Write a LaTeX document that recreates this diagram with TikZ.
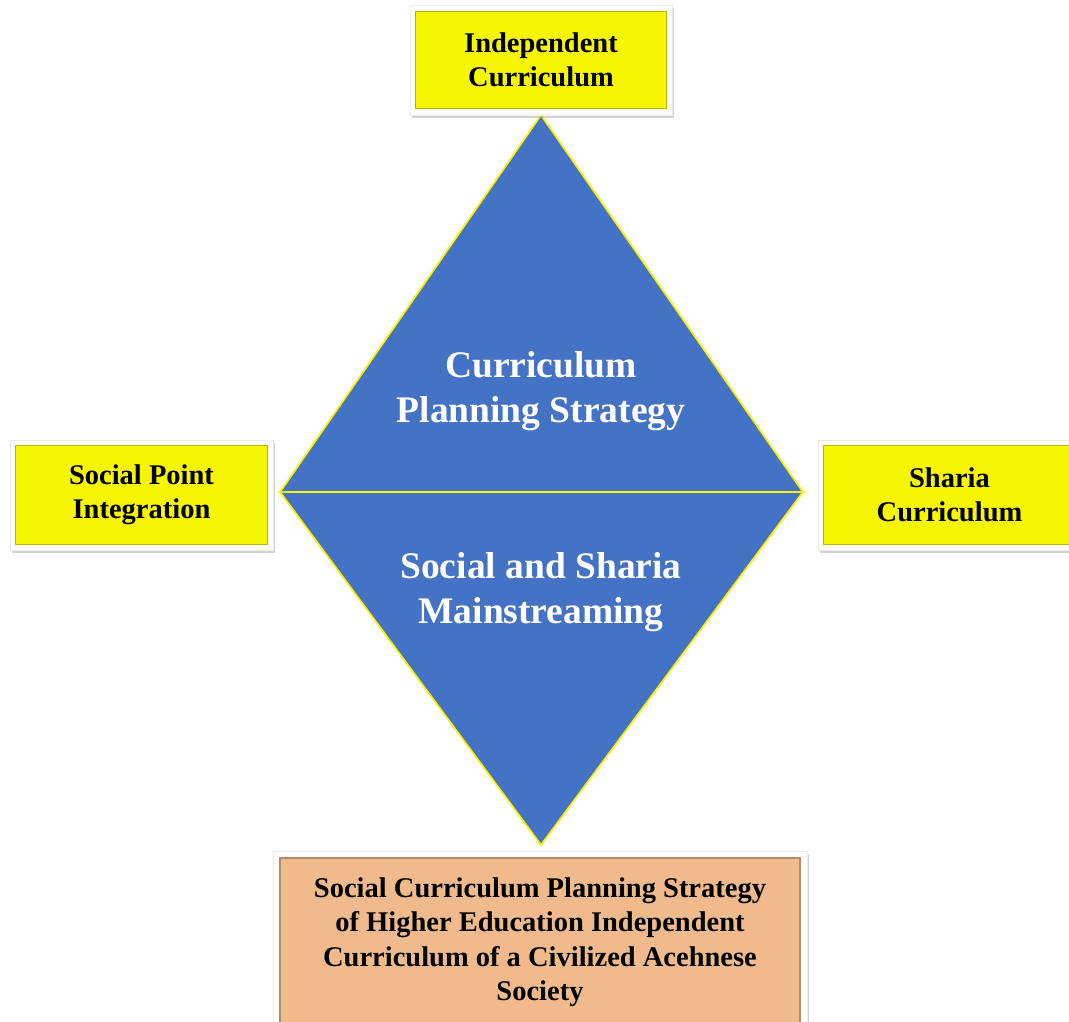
\documentclass[tikz,border=0pt]{standalone}
\usepackage{fontspec}
\setmainfont{Liberation Serif}
\usetikzlibrary{shadows}

\definecolor{boxyellow}{RGB}{246,246,0}
\definecolor{boxorange}{RGB}{240,186,140}
\definecolor{diamondblue}{RGB}{68,114,196}

\begin{document}
\begin{tikzpicture}[x=1pt,y=-1pt]

	\tikzstyle{frame}=[rectangle,fill=white,draw=black!8,drop shadow={opacity=0.35,shadow xshift=2pt,shadow yshift=-3pt}]
	\tikzstyle{label box}=[rectangle,fill=boxyellow,draw=boxyellow!75!black,line width=1.2pt,align=center,
		font=\fontsize{28.5}{34.5}\selectfont\bfseries,text=black]
	\tikzstyle{result box}=[label box,fill=boxorange,draw=boxorange!75!black]
	\tikzstyle{half}=[fill=diamondblue,draw=yellow,line width=1.8pt,line join=miter]
	\tikzstyle{centre text}=[align=center,text=white,font=\fontsize{37.5}{45}\selectfont\bfseries]

	\useasboundingbox (0,0) rectangle (1069,1022);

	% the diamond
	\coordinate (apex) at (541,115);
	\coordinate (west) at (280,492);
	\coordinate (east) at (803,492);
	\coordinate (foot) at (541,845);
	\filldraw[half] (apex) -- (east) -- (west) -- cycle;
	\filldraw[half] (west) -- (east) -- (foot) -- cycle;

	\node [centre text] (strategy) at (541,391) {Curriculum\\Planning Strategy};
	\node [centre text] (mainstream) at (541,592) {Social and Sharia\\Mainstreaming};

	% the boxes round it
	\node [frame,minimum width=262pt,minimum height=110pt] (topframe) at (541,60) {};
	\node [label box,minimum width=251pt,minimum height=97pt] (top) at (541,60) {Independent\\Curriculum};

	\node [frame,minimum width=263pt,minimum height=110pt] (leftframe) at (141.5,495) {};
	\node [label box,minimum width=252pt,minimum height=99pt] (left) at (141.5,495) {Social Point\\Integration};

	\node [frame,minimum width=263pt,minimum height=110pt] (rightframe) at (949.5,495) {};
	\node [label box,minimum width=252pt,minimum height=99pt] (right) at (949.5,495) {Sharia\\Curriculum};

	\node [frame,minimum width=534pt,minimum height=182pt] (bottomframe) at (540,942) {};
	\node [result box,minimum width=520pt,minimum height=168pt] (bottom) at (540,942)
		{Social Curriculum Planning Strategy\\of Higher Education Independent\\Curriculum of a Civilized Acehnese\\Society};

\end{tikzpicture}
\end{document}
